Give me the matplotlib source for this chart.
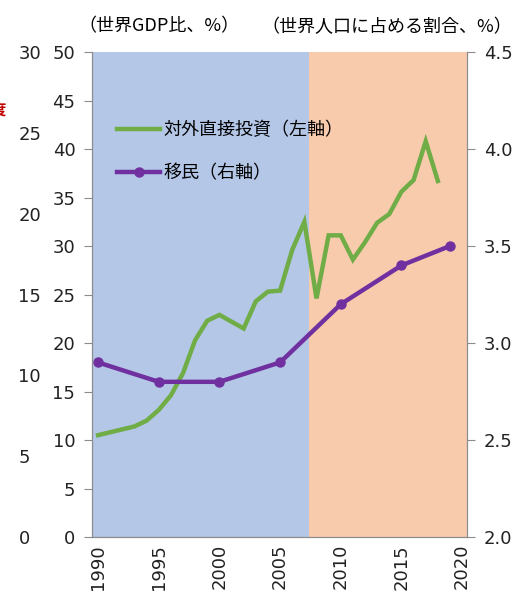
import matplotlib.pyplot as plt

plt.rcParams['font.family'] = ['Noto Sans CJK JP', 'DejaVu Sans']

# 対外直接投資（世界GDP比、%）
fdi_years = list(range(1990, 2019))
fdi_values = [10.5, 10.8, 11.1, 11.4, 12.0, 13.1, 14.6, 16.9, 20.3, 22.3,
              22.9, 22.2, 21.5, 24.3, 25.3, 25.4, 29.6, 32.5, 24.6, 31.1,
              31.1, 28.6, 30.4, 32.4, 33.3, 35.6, 36.8, 40.8, 36.7]

# 移民（世界人口に占める割合、%）
mig_years = [1990, 1995, 2000, 2005, 2010, 2015, 2019]
mig_values = [2.9, 2.8, 2.8, 2.9, 3.2, 3.4, 3.5]

left_ticks = [0, 5, 10, 15, 20, 25, 30, 35, 40, 45, 50]
right_ticks = [2.0, 2.5, 3.0, 3.5, 4.0, 4.5]
outer_ticks = [0, 5, 10, 15, 20, 25, 30]
year_ticks = [1990, 1995, 2000, 2005, 2010, 2015, 2020]

green = '#70AD47'
purple = '#7030A0'
grey = '#8C8C8C'

fig = plt.figure(figsize=(5.18, 5.93), dpi=100)
ax = fig.add_axes([0.1776, 0.0944, 0.7239, 0.8179])

ax.axvspan(1989.5, 2007.4, color='#B4C7E7', lw=0)
ax.axvspan(2007.4, 2020.4, color='#F8CBAD', lw=0)

ax.plot(fdi_years, fdi_values, color=green, lw=3.2, solid_joinstyle='miter',
        label='対外直接投資（左軸）', zorder=3)
ax.set_xlim(1989.5, 2020.4)
ax.set_ylim(0, 50)
ax.set_yticks(left_ticks)
ax.set_xticks(year_ticks)
ax.set_xticklabels([str(y) for y in year_ticks], rotation=90,
                   family='DejaVu Sans')

ax2 = ax.twinx()
ax2.plot(mig_years, mig_values, color=purple, lw=3.2, marker='o', ms=6.5,
         label='移民（右軸）', zorder=3)
ax2.set_ylim(2.0, 4.5)
ax2.set_yticks(right_ticks)
ax2.set_yticklabels(['%.1f' % v for v in right_ticks])

for a in (ax, ax2):
    a.spines['top'].set_visible(False)
    for s in ('left', 'right', 'bottom'):
        a.spines[s].set_color(grey)
    a.tick_params(axis='y', colors=grey, length=6, labelcolor='#222222',
                  labelsize=13, pad=6)
    a.tick_params(axis='x', length=0, labelsize=13, labelcolor='#222222', pad=5)
    for lab in a.get_yticklabels():
        lab.set_family('DejaVu Sans')

# extra outer scale on the far left
ax3 = fig.add_axes([0.1776, 0.0944, 0.7239, 0.8179], frameon=False)
ax3.set_ylim(0, 30)
ax3.set_yticks(outer_ticks)
ax3.set_xticks([])
ax3.tick_params(axis='y', length=0, pad=53, labelsize=13, labelcolor='#222222')
for lab in ax3.get_yticklabels():
    lab.set_family('DejaVu Sans')
    lab.set_horizontalalignment('left')
ax3.patch.set_visible(False)

h1, l1 = ax.get_legend_handles_labels()
h2, l2 = ax2.get_legend_handles_labels()
leg = ax2.legend(h1 + h2, l1 + l2, loc='upper left', bbox_to_anchor=(0.067, 0.858),
                 frameon=False, fontsize=13, handlelength=2.4, handletextpad=0.15,
                 labelspacing=1.4, borderaxespad=0, borderpad=0)

fig.text(0.152, 0.955, '（世界GDP比、%）', fontsize=13, va='center')
fig.text(0.505, 0.955, '（世界人口に占める割合、%）', fontsize=13, va='center')
fig.text(-0.018, 0.815, '度', fontsize=11, color='#C00000', va='center',
         fontweight='bold')

fig.savefig('out.png', dpi=100)
